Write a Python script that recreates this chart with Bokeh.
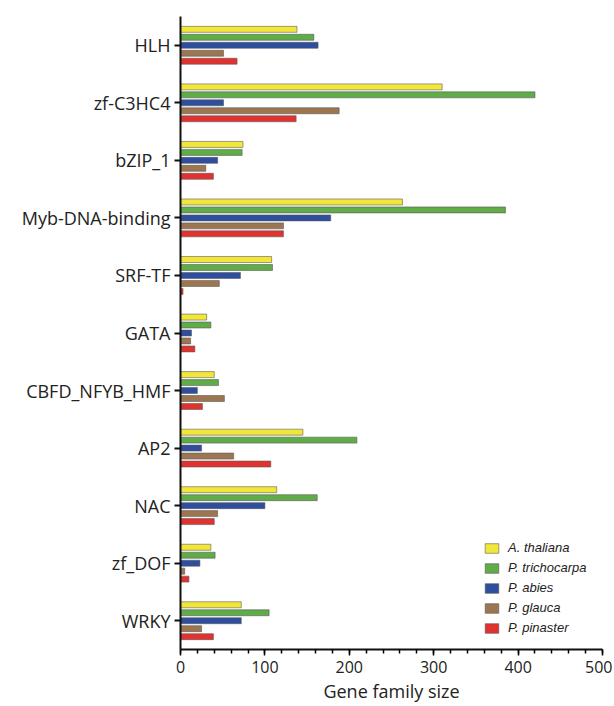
from bokeh.plotting import figure
from bokeh.models import ColumnDataSource, FactorRange, Range1d, Legend, LegendItem
from bokeh.transform import dodge
from bokeh.embed import file_html
from bokeh.resources import INLINE

families = ["HLH", "zf-C3HC4", "bZIP_1", "Myb-DNA-binding", "SRF-TF", "GATA",
            "CBFD_NFYB_HMF", "AP2", "NAC", "zf_DOF", "WRKY"]

a_thaliana    = [138, 310, 74, 263, 108, 31, 40, 145, 114, 36, 72]
p_trichocarpa = [158, 420, 73, 385, 109, 36, 45, 209, 162, 41, 105]
p_abies       = [163, 51, 44, 178, 71, 13, 20, 25, 100, 23, 72]
p_glauca      = [51, 188, 30, 122, 46, 12, 52, 63, 44, 5, 25]
p_pinaster    = [67, 137, 39, 122, 3, 17, 26, 107, 40, 10, 39]

series_names = ["A. thaliana", "P. trichocarpa", "P. abies", "P. glauca", "P. pinaster"]
series_keys = ["ath", "ptr", "pab", "pgl", "ppi"]
colors = ["#f2e63a", "#5fac48", "#2f4f9e", "#9c7650", "#e03330"]
offsets = [0.277, 0.1385, 0.0, -0.1385, -0.277]

source = ColumnDataSource(dict(fam=families, ath=a_thaliana, ptr=p_trichocarpa,
                               pab=p_abies, pgl=p_glauca, ppi=p_pinaster))

p = figure(y_range=FactorRange(*reversed(families), range_padding=0),
           x_range=Range1d(0, 500),
           frame_width=422, frame_height=633,
           min_border_left=180, min_border_top=16, min_border_bottom=54, min_border_right=10,
           output_backend="svg", toolbar_location=None)

renderers = []
for key, col, off in zip(series_keys, colors, offsets):
    r = p.hbar(y=dodge("fam", off, range=p.y_range), left=0, right=key, height=0.104,
               source=source, fill_color=col, line_color="#555555", line_width=0.8,
               line_alpha=0.7)
    renderers.append(r)

p.xgrid.visible = False
p.ygrid.visible = False
p.outline_line_color = None
p.background_fill_color = "white"
p.border_fill_color = "white"

font = "Open Sans"
xa = p.xaxis[0]
xa.axis_label = "Gene family size"
xa.axis_label_text_font = font
xa.axis_label_text_font_size = "18px"
xa.axis_label_text_font_style = "normal"
xa.axis_label_text_color = "#222222"
xa.axis_label_standoff = 3
xa.major_label_text_font = font
xa.major_label_text_font_size = "16px"
xa.major_label_text_color = "#222222"
xa.major_label_standoff = 5
xa.axis_line_width = 2
xa.axis_line_color = "#111111"
xa.major_tick_in = 0
xa.major_tick_out = 6
xa.minor_tick_in = 0
xa.minor_tick_out = 4
xa.major_tick_line_width = 1.5
xa.minor_tick_line_width = 1.5
xa.ticker.desired_num_ticks = 6
xa.ticker.num_minor_ticks = 5

ya = p.yaxis[0]
ya.major_label_text_font = font
ya.major_label_text_font_size = "18px"
ya.major_label_text_color = "#222222"
ya.major_label_standoff = 4
ya.axis_line_width = 2
ya.axis_line_color = "#111111"
ya.major_tick_in = 0
ya.major_tick_out = 6
ya.major_tick_line_width = 2
ya.major_tick_line_color = "#111111"

items = [LegendItem(label=n, renderers=[r]) for n, r in zip(series_names, renderers)]
legend = Legend(items=items, location=(303, 14), padding=0, margin=0, spacing=5,
                glyph_width=17, glyph_height=12, label_height=12, label_standoff=8,
                label_text_font="Liberation Sans", label_text_font_size="13px",
                label_text_font_style="italic", label_text_color="#222222",
                border_line_color=None, background_fill_alpha=0)
p.add_layout(legend, "center")

open("out.html", "w").write(file_html(p, INLINE))
